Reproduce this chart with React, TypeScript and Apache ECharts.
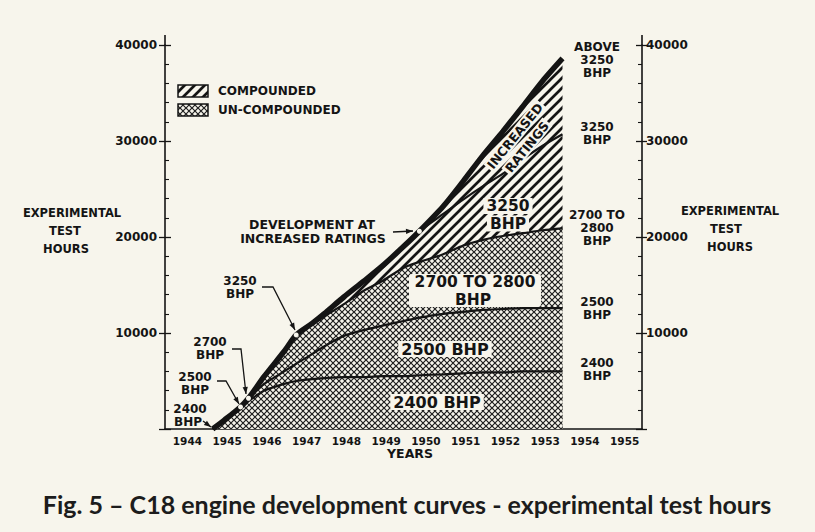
import React, { useEffect, useRef } from "react";
import * as echarts from "echarts";

// ---- data (test hours) ----
const yearLabels = ["1944", "1945", "1946", "1947", "1948", "1949", "1950", "1951", "1952", "1953", "1954", "1955"];
const years = [1945.2, 1945.5, 1945.9, 1946.1, 1946.5, 1947.0, 1947.3, 1947.7, 1948.0, 1948.5, 1949.0, 1949.5, 1950.0, 1950.4, 1951.0, 1951.5, 1952.0, 1952.5, 1953.0, 1953.5, 1954.0];
// total incl. increased ratings (above 3250 BHP)
const totalHours = [0, 950, 2300, 3200, 5500, 8100, 9800, 11000, 12000, 13750, 15400, 17100, 19000, 20600, 23200, 25800, 28500, 31000, 33600, 36250, 38600];
// top of 3250 BHP (compounded)
const hours3250 = [0, 950, 2300, 3200, 5500, 8100, 9800, 11000, 12000, 13750, 15400, 17100, 19000, 20600, 22400, 23900, 25300, 26600, 28100, 29500, 30700];
// top of 2700-2800 BHP (un-compounded)
const hours2800 = [0, 950, 2300, 3200, 5500, 8100, 9800, 10900, 11700, 13000, 14400, 15500, 16800, 17400, 18200, 19100, 19700, 20100, 20400, 20700, 20900];
// top of 2500 BHP
const hours2500 = [0, 950, 2300, 3200, 4700, 6000, 6800, 7800, 8600, 9700, 10300, 10800, 11250, 11600, 12000, 12200, 12400, 12500, 12600, 12600, 12600];
// top of 2400 BHP
const hours2400 = [0, 950, 2300, 2900, 4000, 4700, 5000, 5200, 5300, 5400, 5400, 5500, 5500, 5600, 5700, 5800, 5900, 5900, 6000, 6000, 6000];
// points where a new rating begins (2500, 2700, 3250, increased ratings)
const departureIdx = [2, 3, 6, 13];

const C = "#141414";
const BG = "#f7f5ec";
const FONT = '"DejaVu Sans"';

function makeDiag(): string {
  const s = 10;
  const cv = document.createElement("canvas");
  cv.width = s; cv.height = s;
  const g = cv.getContext("2d")!;
  g.fillStyle = BG; g.fillRect(0, 0, s, s);
  g.strokeStyle = C; g.lineWidth = 2.7;
  g.beginPath();
  g.moveTo(-1, s + 1); g.lineTo(s + 1, -1);
  g.moveTo(-3, 3); g.lineTo(3, -3);
  g.moveTo(s - 3, s + 3); g.lineTo(s + 3, s - 3);
  g.stroke();
  return cv.toDataURL();
}
function makeCross(): string {
  const s = 6;
  const cv = document.createElement("canvas");
  cv.width = s; cv.height = s;
  const g = cv.getContext("2d")!;
  g.fillStyle = BG; g.fillRect(0, 0, s, s);
  g.strokeStyle = "#1e1e1e"; g.lineWidth = 1.2;
  g.beginPath();
  g.moveTo(-1, -1); g.lineTo(s + 1, s + 1);
  g.moveTo(s + 1, -1); g.lineTo(-1, s + 1);
  g.stroke();
  return cv.toDataURL();
}

function T(text: string, x: number, y: number, size = 12, extra: any = {}, rotation = 0) {
  return {
    type: "text", x, y, rotation, z: 100,
    style: {
      text, fill: C, font: `bold ${size}px ${FONT}`,
      align: "center", verticalAlign: "middle", textAlign: "center", textVerticalAlign: "middle",
      ...extra,
    },
  };
}
function arrowHead(x1: number, y1: number, x2: number, y2: number, len = 7, w = 2.6) {
  const a = Math.atan2(y2 - y1, x2 - x1);
  const bx = x2 - len * Math.cos(a), by = y2 - len * Math.sin(a);
  return {
    type: "polygon", z: 100,
    shape: { points: [[x2, y2], [bx + w * Math.sin(a), by - w * Math.cos(a)], [bx - w * Math.sin(a), by + w * Math.cos(a)]] },
    style: { fill: C },
  };
}
function leader(points: number[][]) {
  const n = points.length;
  return [
    { type: "polyline", z: 100, shape: { points }, style: { stroke: C, lineWidth: 1.3, fill: null } },
    arrowHead(points[n - 2][0], points[n - 2][1], points[n - 1][0], points[n - 1][1]),
  ];
}
function seg(x1: number, y1: number, x2: number, y2: number, w = 1.6) {
  return { type: "line", z: 100, shape: { x1, y1, x2, y2 }, style: { stroke: C, lineWidth: w } };
}

export default function App() {
  const ref = useRef<HTMLDivElement>(null);
  useEffect(() => {
    document.body.style.margin = "0";
    document.body.style.background = BG;
    const chart = echarts.init(ref.current!, null, { renderer: "svg" });
    const diag = { image: makeDiag(), repeat: "repeat", imageWidth: 10, imageHeight: 10 };
    const cross = { image: makeCross(), repeat: "repeat", imageWidth: 6, imageHeight: 6 };
    const pts = (arr: number[]) => years.map((x, i) => [x, arr[i]]);
    const lbl = { color: C, fontFamily: FONT, fontWeight: "bold", fontSize: 12 };
    const yBase = {
      type: "value", min: 0, max: 40000, interval: 10000, splitLine: { show: false },
    };
    const labelBg = { backgroundColor: BG, padding: [0, 3] };
    const sm = { smooth: 0.25 };

    const graphic: any[] = [
      // axis extensions above 40000
      seg(165, 35, 165, 46), seg(642, 35, 642, 46),
      // side titles
      T("EXPERIMENTAL", 72, 213, 11.5), T("TEST", 65, 231, 11.5), T("HOURS", 66, 249, 11.5),
      T("EXPERIMENTAL", 730, 211, 11.5), T("TEST", 726, 229, 11.5), T("HOURS", 730, 247, 11.5),
      T("YEARS", 410, 453, 12.5),
      // legend
      { type: "rect", z: 100, shape: { x: 178, y: 85, width: 30, height: 12 }, style: { fill: diag, stroke: C, lineWidth: 1.5 } },
      { type: "rect", z: 100, shape: { x: 178, y: 104, width: 30, height: 12 }, style: { fill: cross, stroke: C, lineWidth: 1.5 } },
      T("COMPOUNDED", 218, 91, 12, { align: "left", textAlign: "left" }),
      T("UN-COMPOUNDED", 218, 110, 12, { align: "left", textAlign: "left" }),
      // right-hand rating labels
      T("ABOVE", 597, 47), T("3250", 597, 60), T("BHP", 597, 73),
      T("3250", 597, 127), T("BHP", 597, 140),
      T("2700 TO", 597, 215), T("2800", 597, 228), T("BHP", 597, 241),
      T("2500", 597, 302), T("BHP", 597, 315),
      T("2400", 597, 363), T("BHP", 597, 376),
      // development annotation
      T("DEVELOPMENT AT", 312, 224, 12.5), T("INCREASED RATINGS", 313, 238, 12.5),
      ...leader([[393, 232], [413, 231]]),
      // left annotations
      T("3250", 240, 281), T("BHP", 240, 294),
      ...leader([[262, 287], [273, 287], [295, 330]]),
      T("2700", 210, 342), T("BHP", 210, 355),
      ...leader([[232, 349], [241, 349], [246, 394]]),
      T("2500", 195, 377), T("BHP", 195, 390),
      ...leader([[217, 381], [226, 381], [239, 404]]),
      T("2400", 190, 409), T("BHP", 188, 422),
      ...leader([[203, 421], [211, 427]]),
      // labels inside the areas
      { type: "rect", z: 99, shape: { x: 409, y: 274, width: 132, height: 33, r: 3 }, style: { fill: BG } },
      T("2700 TO 2800", 475, 282, 15.5), T("BHP", 473, 299.5, 15.5),
      T("2500 BHP", 445, 349, 16, labelBg),
      T("2400 BHP", 437, 402, 16, labelBg),
      T("3250", 508, 206, 15.5, labelBg), T("BHP", 508, 223.5, 15.5, labelBg),
      T("INCREASED", 515, 136, 12.5, { backgroundColor: BG, padding: [0, 2] }, (51 * Math.PI) / 180),
      T("RATINGS", 527, 147, 12.5, { backgroundColor: BG, padding: [0, 2] }, (51 * Math.PI) / 180),
      // caption
      {
        type: "text", x: 407, y: 504, z: 100,
        style: {
          text: "Fig. 5 – C18 engine development curves - experimental test hours",
          fill: "#1c1c1c", font: "bold 25px Lato",
          align: "center", verticalAlign: "middle", textAlign: "center", textVerticalAlign: "middle",
        },
      },
    ];

    chart.setOption({
      animation: false,
      backgroundColor: BG,
      grid: { left: 165, right: 173, top: 45, bottom: 103, containLabel: false },
      xAxis: [
        {
          type: "value", min: 1944, max: 1956, interval: 1, position: "bottom",
          axisLine: { show: true, onZero: false, lineStyle: { color: C, width: 1.6 } },
          axisTick: { show: false }, axisLabel: { show: false }, splitLine: { show: false },
        },
        {
          type: "category", data: yearLabels, position: "bottom", boundaryGap: true,
          axisLine: { show: false }, axisTick: { show: false }, splitLine: { show: false },
          axisLabel: { ...lbl, fontSize: 10.5, margin: 6, padding: [0, 0, 0, 5] },
        },
      ],
      yAxis: [
        {
          ...yBase, position: "left",
          axisLine: { show: true, onZero: false, lineStyle: { color: C, width: 1.6 } },
          axisTick: { show: true, inside: false, length: 6, lineStyle: { color: C, width: 1.3 } },
          axisLabel: { ...lbl, margin: 8, formatter: (v: number) => (v === 0 ? "" : String(v)) },
        },
        {
          ...yBase, position: "right",
          axisLine: { show: true, onZero: false, lineStyle: { color: C, width: 1.6 } },
          axisTick: { show: true, inside: false, length: 5, lineStyle: { color: C, width: 1.3 } },
          axisLabel: { ...lbl, margin: 4, formatter: (v: number) => (v === 0 ? "" : String(v)) },
        },
        {
          ...yBase, position: "left",
          axisLine: { show: false }, axisLabel: { show: false },
          axisTick: { show: true, inside: true, length: 6, lineStyle: { color: C, width: 1.3 } },
          minorTick: { show: true, splitNumber: 5, length: 4, lineStyle: { color: C, width: 1.1 } },
        },
        {
          ...yBase, position: "right",
          axisLine: { show: false }, axisLabel: { show: false },
          axisTick: { show: true, inside: true, length: 6, lineStyle: { color: C, width: 1.3 } },
          minorTick: { show: true, splitNumber: 5, length: 4, lineStyle: { color: C, width: 1.1 } },
        },
      ],
      series: [
        {
          name: "Compounded", type: "line", data: pts(totalHours), showSymbol: false, ...sm,
          lineStyle: { width: 0, opacity: 0 }, areaStyle: { color: diag, opacity: 1 }, z: 1,
        },
        {
          name: "Un-compounded", type: "line", data: pts(hours2800), showSymbol: false, ...sm,
          lineStyle: { width: 2.2, color: C }, areaStyle: { color: cross, opacity: 1 }, z: 2,
        },
        { name: "2400 BHP", type: "line", data: pts(hours2400), showSymbol: false, ...sm, lineStyle: { width: 2.2, color: C }, z: 3 },
        { name: "2500 BHP", type: "line", data: pts(hours2500), showSymbol: false, ...sm, lineStyle: { width: 2.2, color: C }, z: 3 },
        { name: "3250 BHP", type: "line", data: pts(hours3250), showSymbol: false, ...sm, lineStyle: { width: 2.2, color: C }, z: 3 },
        { name: "Total", type: "line", data: pts(totalHours), showSymbol: false, ...sm, lineStyle: { width: 5.5, color: C }, z: 4 },
        {
          name: "Start of rating", type: "scatter", z: 5, symbolSize: 5,
          data: departureIdx.map((i) => [years[i], totalHours[i]]),
          itemStyle: { color: BG, opacity: 1 },
        },
      ],
      graphic,
    });
    return () => chart.dispose();
  }, []);
  return <div ref={ref} style={{ width: 815, height: 532, background: BG }} />;
}
